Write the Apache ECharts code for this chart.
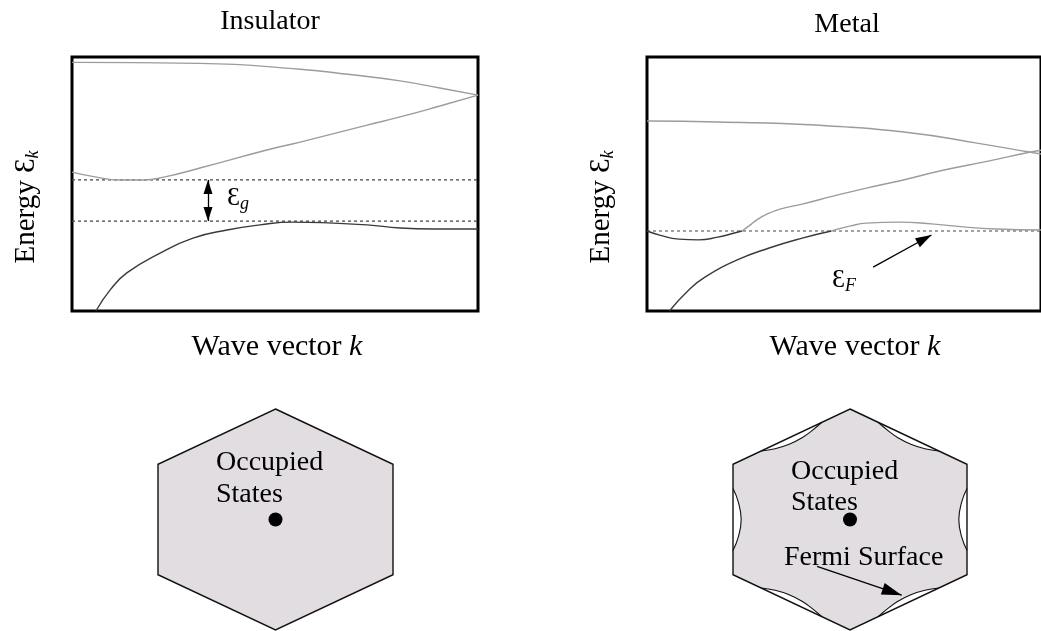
<!DOCTYPE html>
<html><head><meta charset="utf-8">
<script src="https://cdn.jsdelivr.net/npm/echarts@6/dist/echarts.min.js"></script>
<style>html,body{margin:0;padding:0;background:#fff}#c{width:1041px;height:631px}</style>
</head><body><div id="c"></div>
<script>
// ---------- DATA (band diagrams: wave vector k 0..100, energy 0..100) ----------
const insTopBand        = [[0,97.9],[31.5,97.5],[56.2,95.2],[68.5,93.1],[80.8,90.6],[90.6,87.8],[100,85]];
const insConductionBand = [[0,54.7],[5.7,52.8],[11.8,51.6],[17.5,51.6],[22.9,52.8],[31.5,56.3],[48,63.4],[56.2,66.5],[72.7,73.2],[80.8,76.4],[90.6,80.7],[100,85]];
const insValenceBand    = [[5.9,0],[9.4,8.3],[13.5,15],[21.7,22.8],[29.8,28.7],[38.2,31.9],[46.3,33.9],[54.4,35],[64.3,34.6],[72.7,33.9],[80.8,32.7],[88.9,32.3],[100,32.3]];
const insGapLevels      = [51.6, 35.4];      // conduction-band bottom, valence-band top
const insGapArrowK      = 33.5;

const metTopBand        = [[0,74.8],[18,74.4],[42.6,73.2],[67.2,70.1],[83.7,66.1],[97,62.6],[100,61.8]];
const metBand2Occupied  = [[0,31.5],[3.2,29.9],[8.1,28.3],[13.1,28],[18,29.1],[22.2,30.7],[24.1,31.5]];
const metBand2Empty     = [[24.1,31.5],[25.9,33.5],[27.8,35.8],[30.3,38.0],[34,40.2],[39.4,42.1],[47.5,45.3],[55.7,48.4],[64,51.2],[75.4,55.5],[86.9,59.1],[97,62.5],[100,63.3]];
const metBand3Occupied  = [[5.7,0],[10.6,8.3],[14.8,13.4],[22.9,20.1],[31,24.8],[39.4,28.7],[46.8,31.5]];
const metBand3Empty     = [[46.8,31.5],[51.7,33.5],[55.7,34.6],[64,35],[72.2,34.3],[80.3,33.1],[88.7,32.3],[100,31.9]];
const metFermiLevel     = 31.5;
const metFermiArrow     = [[57.4,17.3],[72.2,29.9]];

// ---------- DATA (Brillouin zones: units -10..10) ----------
const hexVertices = [[0,10],[10,5],[10,-5],[0,-10],[-10,-5],[-10,5]];
const zoneCenter  = [[0,0]];
const fermiPockets = [   // empty pockets along each zone edge (clockwise from top vertex)
  [[2.4,8.8],[3.3,8.0],[4.1,7.4],[5.2,6.8],[6.4,6.4],[7.6,6.2]],
  [[10,2.8],[9.55,1.6],[9.3,0],[9.55,-1.6],[10,-2.8]],
  [[7.6,-6.2],[6.4,-6.4],[5.2,-6.8],[4.1,-7.4],[3.3,-8.0],[2.4,-8.8]],
  [[-2.4,-8.8],[-3.3,-8.0],[-4.1,-7.4],[-5.2,-6.8],[-6.4,-6.4],[-7.6,-6.2]],
  [[-10,-2.8],[-9.55,-1.6],[-9.3,0],[-9.55,1.6],[-10,2.8]],
  [[-7.6,6.2],[-6.4,6.4],[-5.2,6.8],[-4.1,7.4],[-3.3,8.0],[-2.4,8.8]]
];
const fermiSurfaceArrow = [[-2.82,-4.25],[4.42,-6.85]];

// ---------- STYLE ----------
const FONT = '"Liberation Serif","Times New Roman",serif';
const DARK = '#3a3a3a', LIGHT = '#9c9c9c', ZONE = '#e1dde1';

function band(data, color, xi) {
  return {type:'line', xAxisIndex:xi, yAxisIndex:xi, data, smooth:true, symbol:'none', silent:true,
          lineStyle:{color, width:1.4}, z:3};
}
function level(y, xi, extra) {
  return Object.assign({type:'line', xAxisIndex:xi, yAxisIndex:xi, data:[[0,y],[100,y]], symbol:'none', silent:true,
          lineStyle:{color:'#444', width:1.2, type:[3,3]}, z:2}, extra || {});
}
function arrowLine(from, to, both, size) {
  return {silent:true, animation:false, symbol: both ? ['triangle','triangle'] : ['none','triangle'],
          symbolSize:size, symbolOffset:[[0,size[1]/2],[0,size[1]/2]],
          label:{show:false}, emphasis:{disabled:true},
          lineStyle:{color:'#000', width:1.3, type:'solid'},
          data:[[{coord:from},{coord:to}]]};
}
function hexSeries(xi, withFermi) {
  return {type:'custom', xAxisIndex:xi, yAxisIndex:xi, data:[[0,0]], silent:true, z:1,
    renderItem:(params, api) => {
      const P = p => api.coord(p);
      const hex = hexVertices.map(P);
      const children = [];
      if (withFermi) {
        const fermi = [];
        hexVertices.forEach((v,i) => { fermi.push(P(v)); fermiPockets[i].forEach(q => fermi.push(P(q))); });
        children.push({type:'polygon', shape:{points:hex}, style:{fill:'#fff'}});
        children.push({type:'polygon', shape:{points:fermi}, style:{fill:ZONE}});
        fermiPockets.forEach(l => children.push({type:'polyline', shape:{points:l.map(P), smooth:0.45},
          style:{stroke:'#111', lineWidth:1.1, fill:null}}));
        children.push({type:'polygon', shape:{points:hex}, style:{fill:null, stroke:'#111', lineWidth:1.4}});
      } else {
        children.push({type:'polygon', shape:{points:hex}, style:{fill:ZONE, stroke:'#111', lineWidth:1.4}});
      }
      return {type:'group', children};
    }};
}

const bandAxis = {type:'value', min:0, max:100, show:false};
const hexAxis  = {type:'value', min:-10, max:10, show:false};
const frame = {show:true, borderColor:'#000', borderWidth:3, backgroundColor:'transparent'};

function txt(x, y, text, opts) {
  return Object.assign({type:'text', x, y, z:100, silent:true,
    style:Object.assign({text, fontFamily:FONT, fontSize:28, fill:'#000', align:'center', verticalAlign:'middle'}, opts || {})});
}
const energyRich = {
  a:{fontFamily:FONT, fontSize:29, lineHeight:31, verticalAlign:'top'},
  s:{fontFamily:FONT, fontSize:18, fontStyle:'italic', lineHeight:14, verticalAlign:'bottom'}
};
const labelRich = {
  a:{fontFamily:FONT, fontSize:26, lineHeight:28, verticalAlign:'top'},
  s:{fontFamily:FONT, fontSize:18, fontStyle:'italic', lineHeight:14, verticalAlign:'bottom'}
};
const waveRich = {
  a:{fontFamily:FONT, fontSize:30},
  i:{fontFamily:FONT, fontSize:30, fontStyle:'italic'}
};

const option = {
  animation:false,
  backgroundColor:'#fff',
  grid:[
    Object.assign({left:72, top:57, width:406, height:254}, frame),
    Object.assign({left:647, top:57, width:406, height:254}, frame),
    {left:158, top:409, width:235, height:221},
    {left:733, top:409, width:234, height:221}
  ],
  xAxis:[Object.assign({gridIndex:0}, bandAxis), Object.assign({gridIndex:1}, bandAxis),
         Object.assign({gridIndex:2}, hexAxis), Object.assign({gridIndex:3}, hexAxis)],
  yAxis:[Object.assign({gridIndex:0}, bandAxis), Object.assign({gridIndex:1}, bandAxis),
         Object.assign({gridIndex:2}, hexAxis), Object.assign({gridIndex:3}, hexAxis)],
  series:[
    // insulator
    level(insGapLevels[0], 0, {markLine:arrowLine([insGapArrowK, insGapLevels[0]], [insGapArrowK, insGapLevels[1]], true, [9,14])}),
    level(insGapLevels[1], 0),
    band(insTopBand, LIGHT, 0),
    band(insConductionBand, LIGHT, 0),
    band(insValenceBand, DARK, 0),
    // metal
    level(metFermiLevel, 1, {markLine:arrowLine(metFermiArrow[0], metFermiArrow[1], false, [10,16])}),
    band(metTopBand, LIGHT, 1),
    band(metBand2Occupied, DARK, 1),
    band(metBand2Empty, LIGHT, 1),
    band(metBand3Occupied, DARK, 1),
    band(metBand3Empty, LIGHT, 1),
    // zones
    hexSeries(2, false),
    {type:'scatter', xAxisIndex:2, yAxisIndex:2, data:zoneCenter, symbolSize:14, itemStyle:{color:'#000', opacity:1}, silent:true, z:5},
    hexSeries(3, true),
    {type:'scatter', xAxisIndex:3, yAxisIndex:3, data:zoneCenter, symbolSize:14, itemStyle:{color:'#000', opacity:1}, silent:true, z:5,
     markLine:arrowLine(fermiSurfaceArrow[0], fermiSurfaceArrow[1], false, [12,20])}
  ],
  graphic:[
    txt(270, 22, 'Insulator'),
    txt(847, 25, 'Metal'),
    txt(277, 347, '{a|Wave vector }{i|k}', {rich:waveRich}),
    txt(855, 347, '{a|Wave vector }{i|k}', {rich:waveRich}),
    txt(27, 200, '{a|Energy Ɛ}{s|k⃗}', {rich:energyRich}),
    txt(602, 200, '{a|Energy Ɛ}{s|k⃗}', {rich:energyRich}),
    txt(227, 199, '{a|Ɛ}{s|g}', {rich:labelRich, align:'left'}),
    txt(832, 281, '{a|Ɛ}{s|F}', {rich:labelRich, align:'left'}),
    txt(216, 447, 'Occupied\nStates', {align:'left', verticalAlign:'top', lineHeight:32}),
    txt(791, 456, 'Occupied\nStates', {align:'left', verticalAlign:'top', lineHeight:31}),
    txt(784, 558, 'Fermi Surface', {align:'left'})
  ]
};
option.graphic[4].rotation = Math.PI/2;
option.graphic[5].rotation = Math.PI/2;

const chart = echarts.init(document.getElementById('c'));
chart.setOption(option);
</script></body></html>
